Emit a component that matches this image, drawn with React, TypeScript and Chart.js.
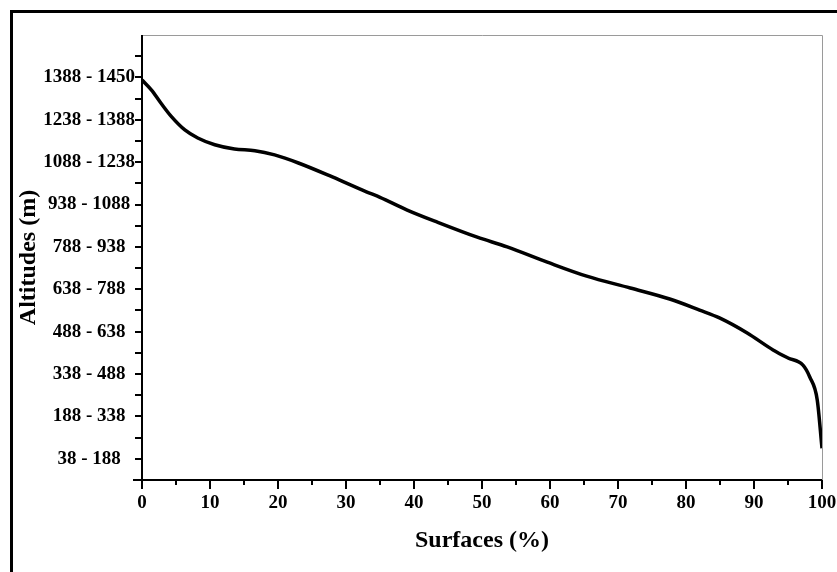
import React, { useEffect, useRef } from 'react';
import { Chart, registerables } from 'chart.js';

Chart.register(...registerables);

// Altitude classes (bottom to top); class i is centred on level i + 0.5
const altitudeClasses = [
  '38 - 188',
  '188 - 338',
  '338 - 488',
  '488 - 638',
  '638 - 788',
  '788 - 938',
  '938 - 1088',
  '1088 - 1238',
  '1238 - 1388',
  '1388 - 1450',
];

// Hypsometric curve: cumulative surface (%) vs altitude level (class units)
const surfaces = [
  0, 1.4, 2.8, 4.3, 6.3, 8.2, 10.7, 13.6, 16.6, 19.5, 23, 28, 33, 35, 39, 43.5,
  49.3, 53.7, 59.6, 65.4, 71.8, 77.6, 82, 85, 89, 92.8, 95, 97.2, 98.2, 99.3, 100,
];
const altitudeLevel = [
  9.44, 9.2, 8.89, 8.58, 8.26, 8.07, 7.91, 7.81, 7.77, 7.67, 7.48, 7.15, 6.8, 6.67,
  6.37, 6.08, 5.73, 5.5, 5.14, 4.81, 4.53, 4.27, 4.01, 3.82, 3.47, 3.07, 2.88,
  2.71, 2.43, 1.89, 0.75,
];

const xMin = 0;
const xMax = 100;
const xMajorStep = 10;
const xMinorStep = 5;
const yMax = 10.5;

const FONT = "'Liberation Serif', 'Times New Roman', serif";

const customAxes = {
  id: 'customAxes',
  afterDraw(chart: any) {
    const { ctx, chartArea } = chart;
    const { left, right, top, bottom } = chartArea;
    const xs = chart.scales.x;
    const ys = chart.scales.y;
    ctx.save();
    // grey frame top & right
    ctx.strokeStyle = '#9a9a9a';
    ctx.lineWidth = 1;
    ctx.beginPath();
    ctx.moveTo(left, top + 0.5);
    ctx.lineTo(right + 0.5, top + 0.5);
    ctx.lineTo(right + 0.5, bottom);
    ctx.stroke();
    // black axes
    ctx.strokeStyle = '#000';
    ctx.lineWidth = 2;
    ctx.beginPath();
    ctx.moveTo(left, top);
    ctx.lineTo(left, bottom + 1);
    ctx.moveTo(left - 9, bottom);
    ctx.lineTo(right, bottom);
    ctx.stroke();
    // y ticks
    ctx.beginPath();
    for (let k = 1; k <= 20; k++) {
      const y = Math.round(ys.getPixelForValue(k * 0.5));
      ctx.moveTo(left - 7, y);
      ctx.lineTo(left, y);
    }
    // x ticks
    for (let v = xMin; v <= xMax; v += xMinorStep) {
      const x = Math.round(xs.getPixelForValue(v));
      const len = v % xMajorStep === 0 ? 9 : 5;
      ctx.moveTo(x, bottom);
      ctx.lineTo(x, bottom + len);
    }
    ctx.stroke();
    ctx.restore();
  },
};

export default function App() {
  const canvasRef = useRef<HTMLCanvasElement | null>(null);

  useEffect(() => {
    if (!canvasRef.current) return;
    const data = surfaces.map((s, i) => ({ x: s, y: altitudeLevel[i] }));
    const chart = new Chart(canvasRef.current, {
      type: 'line',
      data: {
        datasets: [
          {
            data,
            borderColor: '#000',
            borderWidth: 3.5,
            pointRadius: 0,
            fill: false,
            cubicInterpolationMode: 'monotone',
          },
        ],
      },
      options: {
        animation: false,
        responsive: false,
        devicePixelRatio: 1,
        layout: { padding: { top: 35, right: 15, left: 0, bottom: 0 } },
        plugins: { legend: { display: false }, tooltip: { enabled: false } },
        scales: {
          x: {
            type: 'linear',
            min: xMin,
            max: xMax,
            afterFit: (s: any) => {
              s.height = 92;
              s.paddingLeft = 0;
              s.paddingRight = 0;
            },
            grid: { display: false, drawTicks: false },
            border: { display: false },
            ticks: {
              stepSize: xMajorStep,
              padding: 12,
              color: '#000',
              maxRotation: 0,
              font: { family: FONT, size: 19, weight: 'bold' },
            },
            title: {
              display: true,
              text: 'Surfaces (%)',
              color: '#000',
              font: { family: FONT, size: 24, weight: 'bold' },
              padding: { top: 0, bottom: 16.6 },
            },
          },
          y: {
            type: 'linear',
            min: 0,
            max: yMax,
            afterFit: (s: any) => {
              s.width = 142;
              s.paddingTop = 0;
              s.paddingBottom = 0;
            },
            grid: { display: false, drawTicks: false },
            border: { display: false },
            ticks: {
              stepSize: 0.5,
              autoSkip: false,
              padding: 7,
              crossAlign: 'center',
              color: '#000',
              font: { family: FONT, size: 19, weight: 'bold' },
              callback: (v: any) => {
                const k = Math.round(Number(v) * 2);
                if (k % 2 === 1) {
                  const i = (k - 1) / 2;
                  return altitudeClasses[i] ?? '';
                }
                return '';
              },
            },
            title: {
              display: true,
              text: 'Altitudes (m)',
              color: '#000',
              font: { family: FONT, size: 24, weight: 'bold' },
              padding: { top: 14.6, bottom: 0 },
            },
          },
        },
      },
      plugins: [customAxes],
    });
    return () => chart.destroy();
  }, []);

  return (
    <div
      style={{
        position: 'absolute',
        left: 0,
        top: 0,
        width: 837,
        height: 572,
        overflow: 'hidden',
        background: '#fff',
      }}
    >
      <div
        style={{
          position: 'absolute',
          left: 10,
          top: 10,
          width: 900,
          height: 700,
          border: '3px solid #000',
          boxSizing: 'border-box',
        }}
      />
      <canvas
        ref={canvasRef}
        width={837}
        height={572}
        style={{ position: 'absolute', left: 0, top: 0, display: 'block' }}
      />
    </div>
  );
}
